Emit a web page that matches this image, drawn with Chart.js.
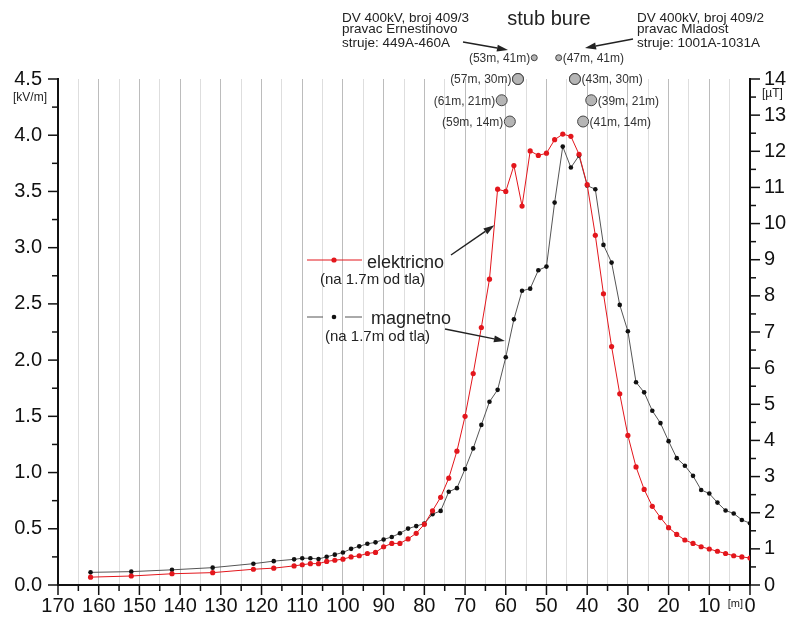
<!DOCTYPE html>
<html>
<head>
<meta charset="utf-8">
<script src="https://cdn.jsdelivr.net/npm/chart.js@4.4.0/dist/chart.umd.min.js"></script>
<style>
  html, body { margin: 0; padding: 0; background: #fff; }
</style>
</head>
<body>
<canvas id="fieldChart" width="790" height="624"></canvas>
<script>
// distance from the reference point [m]
const distances = [162, 152, 142, 132, 122, 117, 112, 110, 108, 106, 104, 102, 100, 98, 96, 94, 92, 90, 88, 86,
  84, 82, 80, 78, 76, 74, 72, 70, 68, 66, 64, 62, 60, 58, 56, 54, 52, 50, 48, 46, 44, 42, 40, 38, 36, 34, 32,
  30, 28, 26, 24, 22, 20, 18, 16, 14, 12, 10, 8, 6, 4, 2, 0];

// elektricno polje [kV/m]
const electricValues = [0.07, 0.08, 0.10, 0.11, 0.14, 0.15, 0.17, 0.18, 0.19, 0.19, 0.21, 0.22, 0.23, 0.25, 0.26,
  0.28, 0.29, 0.34, 0.37, 0.37, 0.41, 0.46, 0.54, 0.66, 0.78, 0.95, 1.19, 1.50, 1.88, 2.29, 2.72, 3.52, 3.50,
  3.73, 3.37, 3.86, 3.82, 3.84, 3.96, 4.01, 3.99, 3.83, 3.56, 3.11, 2.59, 2.12, 1.70, 1.33, 1.05, 0.85, 0.70,
  0.60, 0.51, 0.45, 0.40, 0.37, 0.34, 0.32, 0.30, 0.28, 0.26, 0.25, 0.24];

// magnetno polje [uT]
const magneticValues = [0.35, 0.37, 0.42, 0.48, 0.59, 0.66, 0.71, 0.74, 0.74, 0.72, 0.78, 0.84, 0.90, 1.00, 1.07,
  1.14, 1.18, 1.26, 1.33, 1.43, 1.56, 1.63, 1.70, 1.96, 2.05, 2.58, 2.68, 3.21, 3.78, 4.43, 5.07, 5.40, 6.30,
  7.35, 8.14, 8.20, 8.71, 8.81, 10.58, 12.13, 11.55, 11.88, 11.05, 10.95, 9.41, 8.92, 7.75, 7.02, 5.61, 5.33,
  4.82, 4.48, 3.98, 3.51, 3.30, 3.02, 2.63, 2.53, 2.28, 2.06, 1.98, 1.80, 1.71];

// conductor positions on the tower (distance, height) and the row they sit in
const towerDistances = [53, 47, 57, 43, 61, 39, 59, 41];
const towerHeights = [41, 41, 30, 30, 21, 21, 14, 14];
const towerRows = [3, 3, 2, 2, 1, 1, 0, 0];

const xTicksMajor = 10;
const leftTickMajor = 0.5;
const rightTickMajor = 1;

const FONT = 'Liberation Sans, Arial, sans-serif';
const RED = '#e3161c';

function toPoints(xs, ys) {
  return xs.map((x, i) => ({ x: x, y: ys[i] }));
}

function isMultiple(v, step) {
  return Math.abs(v / step - Math.round(v / step)) < 1e-6;
}

function arrow(ctx, x1, y1, x2, y2) {
  const a = Math.atan2(y2 - y1, x2 - x1);
  const len = 11, w = 3.5;
  ctx.beginPath();
  ctx.moveTo(x1, y1);
  ctx.lineTo(x2 - len * Math.cos(a), y2 - len * Math.sin(a));
  ctx.stroke();
  ctx.beginPath();
  ctx.moveTo(x2, y2);
  ctx.lineTo(x2 - len * Math.cos(a) + w * Math.sin(a), y2 - len * Math.sin(a) - w * Math.cos(a));
  ctx.lineTo(x2 - len * Math.cos(a) - w * Math.sin(a), y2 - len * Math.sin(a) + w * Math.cos(a));
  ctx.closePath();
  ctx.fill();
}

// tower circles above the plot area are skipped by Chart.js, draw them anyway
const towerOutside = {
  id: 'towerOutside',
  afterDatasetsDraw(chart) {
    const area = chart.chartArea;
    chart.getDatasetMeta(2).data.forEach(el => {
      if (el.y < area.top + 2) el.draw(chart.ctx);
    });
  }
};

// tick marks (long for labelled, short for the rest)
const tickMarks = {
  id: 'tickMarks',
  afterDraw(chart) {
    const ctx = chart.ctx;
    ctx.save();
    ctx.strokeStyle = '#111';
    ctx.lineWidth = 1.5;
    const xs = chart.scales.x;
    xs.ticks.forEach(t => {
      const px = xs.getPixelForValue(t.value);
      const l = isMultiple(t.value, xTicksMajor) ? 10 : 6;
      ctx.beginPath(); ctx.moveTo(px, xs.top); ctx.lineTo(px, xs.top + l); ctx.stroke();
    });
    const yl = chart.scales.y;
    yl.ticks.forEach(t => {
      const py = yl.getPixelForValue(t.value);
      const l = isMultiple(t.value, leftTickMajor) ? 10 : 6;
      ctx.beginPath(); ctx.moveTo(yl.right, py); ctx.lineTo(yl.right - l, py); ctx.stroke();
    });
    const yr = chart.scales.yB;
    yr.ticks.forEach(t => {
      const py = yr.getPixelForValue(t.value);
      const l = isMultiple(t.value, rightTickMajor) ? 10 : 6;
      ctx.beginPath(); ctx.moveTo(yr.left, py); ctx.lineTo(yr.left + l, py); ctx.stroke();
    });
    ctx.restore();
  }
};

// legend, units and tower notes
const notes = {
  id: 'notes',
  afterDraw(chart) {
    const ctx = chart.ctx;
    const xs = chart.scales.x, yl = chart.scales.y, yr = chart.scales.yB;
    ctx.save();
    ctx.fillStyle = '#222';
    ctx.strokeStyle = '#222';
    ctx.textBaseline = 'alphabetic';

    // units
    ctx.font = '12px ' + FONT;
    ctx.textAlign = 'center';
    ctx.fillText('[kV/m]', 30, 101);
    ctx.textAlign = 'left';
    ctx.fillText('[\u00b5T]', 762, 97);
    ctx.font = '11px ' + FONT;
    ctx.textAlign = 'right';
    ctx.fillText('[m]', xs.getPixelForValue(0) - 7, 607);

    // title and line notes
    ctx.textAlign = 'center';
    ctx.font = '20px ' + FONT;
    ctx.fillText('stub bure', 549, 25);
    ctx.textAlign = 'left';
    ctx.font = '13.5px ' + FONT;
    ['DV 400kV, broj 409/3', 'pravac Ernestinovo', 'struje: 449A-460A'].forEach((s, i) => {
      ctx.fillText(s, 342, [22, 33, 47][i]);
    });
    ['DV 400kV, broj 409/2', 'pravac Mladost', 'struje: 1001A-1031A'].forEach((s, i) => {
      ctx.fillText(s, 637, [22, 33, 47][i]);
    });
    ctx.lineWidth = 1.5;
    arrow(ctx, 463, 42, 508, 50);
    arrow(ctx, 633, 39, 585, 48);

    // tower labels next to the circles
    const meta = chart.getDatasetMeta(2);
    ctx.font = '12px ' + FONT;
    ctx.fillStyle = '#333';
    ctx.textBaseline = 'middle';
    meta.data.forEach((el, i) => {
      const r = towerRows[i] === 3 ? 3 : 5.5;
      const s = '(' + towerDistances[i] + 'm, ' + towerHeights[i] + 'm)';
      if (towerDistances[i] > 50) {
        ctx.textAlign = 'right';
        ctx.fillText(s, el.x - r - 1, el.y + 1);
      } else {
        ctx.textAlign = 'left';
        ctx.fillText(s, el.x + r + 1, el.y + 1);
      }
    });

    // legend
    ctx.textBaseline = 'alphabetic';
    ctx.textAlign = 'left';
    ctx.strokeStyle = RED;
    ctx.lineWidth = 1;
    ctx.beginPath(); ctx.moveTo(307, 260); ctx.lineTo(362, 260); ctx.stroke();
    ctx.fillStyle = RED;
    ctx.beginPath(); ctx.arc(334, 260, 2.6, 0, Math.PI * 2); ctx.fill();
    ctx.strokeStyle = '#555';
    ctx.beginPath(); ctx.moveTo(307, 317); ctx.lineTo(323, 317); ctx.moveTo(345, 317); ctx.lineTo(362, 317); ctx.stroke();
    ctx.fillStyle = '#111';
    ctx.beginPath(); ctx.arc(334, 317, 2.3, 0, Math.PI * 2); ctx.fill();

    ctx.fillStyle = '#222';
    ctx.font = '18px ' + FONT;
    ctx.fillText('elektricno', 367, 268);
    ctx.fillText('magnetno', 371, 324);
    ctx.font = '15px ' + FONT;
    ctx.fillText('(na 1.7m od tla)', 320, 284);
    ctx.fillText('(na 1.7m od tla)', 325, 341);

    ctx.strokeStyle = '#222';
    ctx.fillStyle = '#222';
    ctx.lineWidth = 1.5;
    arrow(ctx, 451, 255, xs.getPixelForValue(62.8), yl.getPixelForValue(3.2));
    arrow(ctx, 445, 329, xs.getPixelForValue(60.2), yr.getPixelForValue(6.75));
    ctx.restore();
  }
};

const ctx = document.getElementById('fieldChart');

new Chart(ctx, {
  type: 'line',
  data: {
    datasets: [
      {
        label: 'elektricno',
        data: toPoints(distances, electricValues),
        yAxisID: 'y',
        borderColor: RED,
        borderWidth: 1,
        pointRadius: 2.6,
        pointBackgroundColor: RED,
        pointBorderWidth: 0,
        tension: 0
      },
      {
        label: 'magnetno',
        data: toPoints(distances, magneticValues),
        yAxisID: 'yB',
        borderColor: '#555',
        borderWidth: 1,
        pointRadius: 2.3,
        pointBackgroundColor: '#111',
        pointBorderWidth: 0,
        tension: 0
      },
      {
        type: 'scatter',
        label: 'stub',
        data: toPoints(towerDistances, towerRows),
        yAxisID: 'yTower',
        showLine: false,
        clip: false,
        pointRadius: towerRows.map(r => r === 3 ? 3 : 5.5),
        backgroundColor: '#b5b5b5',
        borderColor: '#444',
        borderWidth: 1
      }
    ]
  },
  options: {
    responsive: false,
    animation: false,
    devicePixelRatio: 1,
    layout: { padding: { top: 79, left: 0, right: 0, bottom: 0 } },
    plugins: {
      legend: { display: false },
      tooltip: { enabled: false }
    },
    scales: {
      x: {
        type: 'linear',
        reverse: true,
        min: 0,
        max: 170,
        afterFit: s => { s.height = 39; },
        ticks: {
          stepSize: 5,
          autoSkip: false,
          maxRotation: 0,
          padding: 9,
          color: '#111',
          font: { family: FONT, size: 20 },
          callback: v => isMultiple(v, xTicksMajor) ? String(v) : ''
        },
        grid: {
          drawTicks: false,
          lineWidth: 1,
          color: c => (c.tick && isMultiple(c.tick.value, xTicksMajor)) ? '#bcbcbc' : '#dedede'
        },
        border: { display: true, color: '#111', width: 2 }
      },
      y: {
        position: 'left',
        min: 0,
        max: 4.5,
        afterFit: s => { s.width = 58; },
        ticks: {
          stepSize: 0.25,
          autoSkip: false,
          padding: 16,
          color: '#111',
          font: { family: FONT, size: 20 },
          callback: v => isMultiple(v, leftTickMajor) ? v.toFixed(1) : ''
        },
        grid: { display: false, drawTicks: false },
        border: { display: true, color: '#111', width: 2 }
      },
      yB: {
        position: 'right',
        min: 0,
        max: 14,
        afterFit: s => { s.width = 40; },
        ticks: {
          stepSize: 0.5,
          autoSkip: false,
          padding: 14,
          color: '#111',
          font: { family: FONT, size: 20 },
          callback: v => isMultiple(v, rightTickMajor) ? String(v) : ''
        },
        grid: { display: false, drawTicks: false },
        border: { display: true, color: '#111', width: 2 }
      },
      yTower: {
        display: false,
        min: -21.8,
        max: 2.0
      }
    }
  },
  plugins: [towerOutside, tickMarks, notes]
});
</script>
</body>
</html>
